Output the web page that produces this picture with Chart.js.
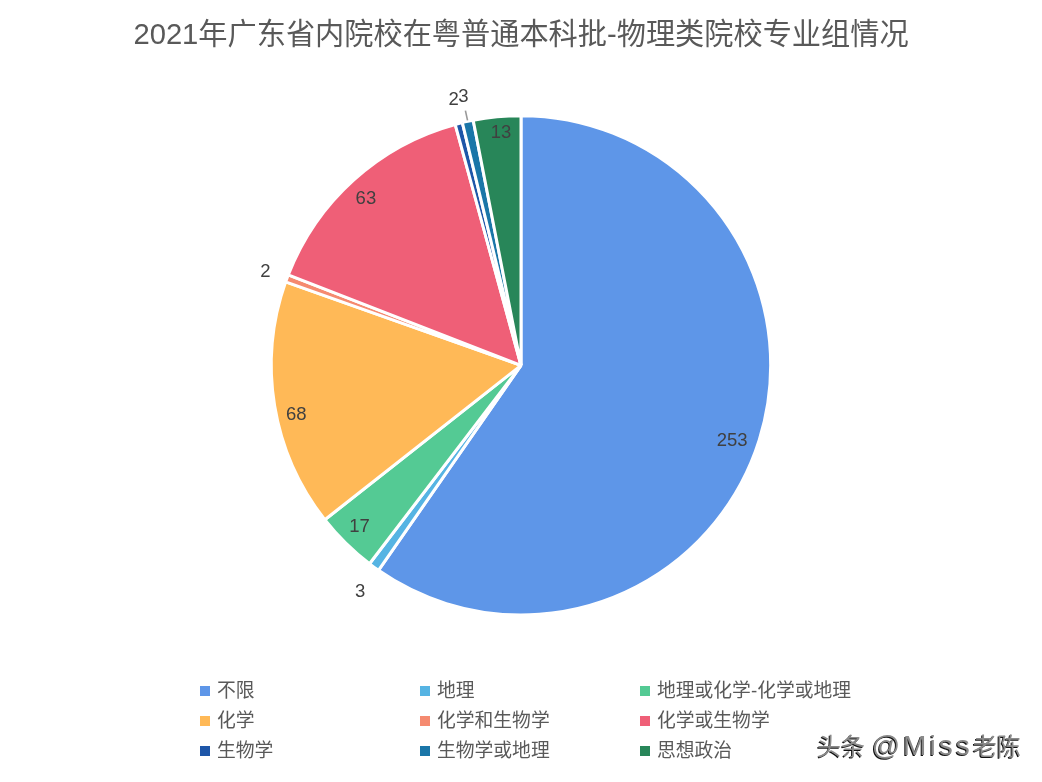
<!DOCTYPE html>
<html lang="zh-CN">

<head>
    <meta charset="UTF-8">
    <title>2021年广东省内院校在粤普通本科批-物理类院校专业组情况</title>
    <script src="https://cdn.jsdelivr.net/npm/chart.js"></script>
    <style>
        html, body {
            margin: 0;
            background: #fff;
            overflow: hidden;
        }

        #wrap {
            position: relative;
            width: 1042px;
            height: 782px;
            font-family: "Liberation Sans", "Noto Sans CJK SC", sans-serif;
        }

        #legend {
            position: absolute;
            left: 0;
            top: 0;
        }

        .legend-item {
            position: absolute;
            color: #595959;
            font-size: 18.8px;
            line-height: 30px;
            white-space: nowrap;
            padding-left: 17px;
        }

        .legend-item i {
            position: absolute;
            left: 0;
            top: 10px;
            width: 10px;
            height: 10px;
        }

        #mark {
            position: absolute;
            left: 817px;
            top: 730px;
            font-size: 24px;
            line-height: 32px;
            color: #8a8a8a;
            text-shadow: -1px 1px 0 #111;
            white-space: nowrap;
        }

        #mark span {
            font-size: 28px;
            letter-spacing: 3px;
        }
    </style>
</head>

<body>
    <div id="wrap">
        <canvas id="pie" width="1042" height="782"></canvas>
        <div id="legend"></div>
        <div id="mark">头条 <span>@Miss</span>老陈</div>
    </div>

    <script>
        var titleText = '2021年广东省内院校在粤普通本科批-物理类院校专业组情况';
        var categories = ['不限', '地理', '地理或化学-化学或地理', '化学', '化学和生物学', '化学或生物学', '生物学', '生物学或地理', '思想政治'];
        var counts = [253, 3, 17, 68, 2, 63, 2, 3, 13];
        var colors = ['#5E96E8', '#56B4E3', '#54CA94', '#FFB957', '#F58A70', '#EF5F77', '#1E56A8', '#1A76A8', '#288659'];

        // hand nudges [dx, dy] so the labels sit where the original has them
        var labelNudges = [[-7, 7], [1, 5], [-1, -1], [1, 12], [2, 2], [-2, 3], [1, 1], [1, 0], [2, -5]];

        // legend runs in 3 columns
        var legendBox = document.getElementById('legend');
        categories.forEach(function (name, i) {
            var item = document.createElement('div');
            item.className = 'legend-item';
            item.style.left = (200 + (i % 3) * 220) + 'px';
            item.style.top = (675.5 + Math.floor(i / 3) * 30) + 'px';
            item.innerHTML = '<i style="background:' + colors[i] + '"></i>' + name;
            legendBox.appendChild(item);
        });

        // value labels: big slices inside the edge, tiny ones outside
        var valueLabels = {
            id: 'valueLabels',
            afterDatasetsDraw: function (chart) {
                var ctx = chart.ctx;
                var arcs = chart.getDatasetMeta(0).data;
                ctx.save();
                ctx.font = '18.5px "Liberation Sans", sans-serif';
                ctx.fillStyle = '#404040';
                ctx.textAlign = 'center';
                ctx.textBaseline = 'middle';
                arcs.forEach(function (arc, i) {
                    var mid = (arc.startAngle + arc.endAngle) / 2;
                    var r = counts[i] > 3 ? arc.outerRadius - 21 : arc.outerRadius + 25;
                    var x = arc.x + Math.cos(mid) * r + labelNudges[i][0];
                    var y = arc.y + Math.sin(mid) * r + labelNudges[i][1];
                    ctx.fillText(counts[i], x, y);
                    if (i === 7) {
                        // leader line of the crowded label
                        ctx.strokeStyle = '#999';
                        ctx.lineWidth = 1.6;
                        ctx.beginPath();
                        ctx.moveTo(arc.x + Math.cos(mid) * (arc.outerRadius + 1), arc.y + Math.sin(mid) * (arc.outerRadius + 1));
                        ctx.lineTo(arc.x + Math.cos(mid) * (arc.outerRadius + 11), arc.y + Math.sin(mid) * (arc.outerRadius + 11));
                        ctx.stroke();
                    }
                });
                ctx.restore();
            }
        };

        var pieChart = new Chart(document.getElementById('pie'), {
            type: 'pie',
            data: {
                labels: categories,
                datasets: [{
                    data: counts,
                    backgroundColor: colors,
                    borderColor: '#fff',
                    borderWidth: 3
                }]
            },
            options: {
                responsive: false,
                animation: false,
                layout: { padding: { bottom: 165.5 } },
                plugins: {
                    legend: { display: false },
                    tooltip: { enabled: false },
                    title: {
                        display: true,
                        text: titleText,
                        color: '#595959',
                        font: { size: 29.2, weight: 'normal', family: '"Liberation Sans", "Noto Sans CJK SC", sans-serif' },
                        padding: { top: 18, bottom: 61.1 }
                    }
                }
            },
            plugins: [valueLabels]
        });
    </script>
</body>

</html>
